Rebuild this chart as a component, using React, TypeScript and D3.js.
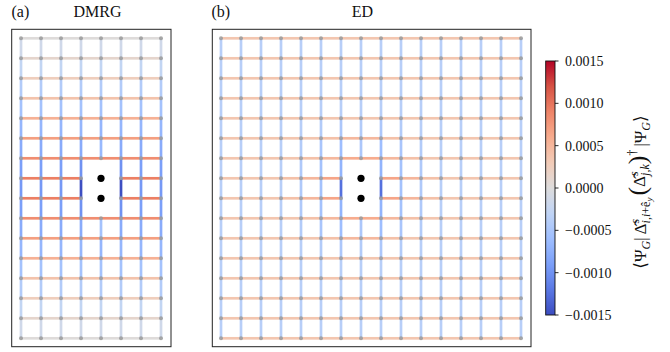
import React from "react";
import * as d3 from "d3";

// Bond expectation values, in units of 1e-4. null = bond removed by the hole pair.
// Horizontal bonds: [row][k] joins column k and k+1. Vertical bonds: [gap][col] joins row g and g+1.
const dmrgHorizontal: (number | null)[][] = [
  [0.2, 0.2, 0.2, 0.2, 0.2, 0.2, 0.2],
  [1.2, 1.2, 1.2, 1.2, 1.2, 1.2, 1.2],
  [2.5, 2.5, 2.5, 2.5, 2.5, 2.5, 2.5],
  [3.8, 3.8, 3.8, 3.8, 3.8, 3.8, 3.8],
  [5.5, 5.5, 5.5, 5.5, 5.5, 5.5, 5.5],
  [7.0, 7.0, 7.0, 7.0, 7.0, 7.0, 7.0],
  [8.3, 8.3, 8.3, 8.3, 8.3, 8.3, 8.3],
  [9.3, 9.3, 9.3, null, null, 9.3, 9.3],
  [9.3, 9.3, 9.3, null, null, 9.3, 9.3],
  [8.3, 8.3, 8.3, 8.3, 8.3, 8.3, 8.3],
  [7.0, 7.0, 7.0, 7.0, 7.0, 7.0, 7.0],
  [5.5, 5.5, 5.5, 5.5, 5.5, 5.5, 5.5],
  [3.8, 3.8, 3.8, 3.8, 3.8, 3.8, 3.8],
  [2.5, 2.5, 2.5, 2.5, 2.5, 2.5, 2.5],
  [1.2, 1.2, 1.2, 1.2, 1.2, 1.2, 1.2],
  [0.2, 0.2, 0.2, 0.2, 0.2, 0.2, 0.2],
];

const dmrgVertical: (number | null)[][] = [
  [-1.5, -1.5, -1.5, -1.5, -1.5, -1.5, -1.5, -1.5],
  [-2.8, -2.8, -2.8, -2.8, -2.8, -2.8, -2.8, -2.8],
  [-4.2, -4.2, -4.2, -4.2, -4.2, -4.2, -4.2, -4.2],
  [-5.5, -5.5, -5.5, -5.5, -5.5, -5.5, -5.5, -5.5],
  [-6.8, -6.8, -6.8, -6.8, -6.8, -6.8, -6.8, -6.8],
  [-7.8, -7.8, -7.8, -7.8, -6.5, -7.8, -7.8, -7.8],
  [-9.0, -9.0, -9.0, -10.0, null, -10.0, -9.0, -9.0],
  [-9.5, -9.5, -9.5, -14.8, null, -14.8, -9.5, -9.5],
  [-9.0, -9.0, -9.0, -10.0, null, -10.0, -9.0, -9.0],
  [-7.8, -7.8, -7.8, -7.8, -5.5, -7.8, -7.8, -7.8],
  [-6.8, -6.8, -6.8, -6.8, -6.8, -6.8, -6.8, -6.8],
  [-5.5, -5.5, -5.5, -5.5, -5.5, -5.5, -5.5, -5.5],
  [-4.2, -4.2, -4.2, -4.2, -4.2, -4.2, -4.2, -4.2],
  [-2.8, -2.8, -2.8, -2.8, -2.8, -2.8, -2.8, -2.8],
  [-1.5, -1.5, -1.5, -1.5, -1.5, -1.5, -1.5, -1.5],
];

const edHorizontal: (number | null)[][] = [
  [3.5, 3.5, 3.5, 3.5, 3.5, 3.5, 3.5, 3.5, 3.5, 3.5, 3.5, 3.5, 3.5, 3.5, 3.5],
  [3.5, 3.5, 3.5, 3.5, 3.5, 3.5, 3.5, 3.5, 3.5, 3.5, 3.5, 3.5, 3.5, 3.5, 3.5],
  [3.5, 3.5, 3.5, 3.5, 3.5, 3.5, 3.5, 3.5, 3.5, 3.5, 3.5, 3.5, 3.5, 3.5, 3.5],
  [3.5, 3.5, 3.5, 3.5, 3.5, 3.5, 3.5, 3.5, 3.5, 3.5, 3.5, 3.5, 3.5, 3.5, 3.5],
  [3.5, 3.5, 3.5, 3.5, 3.5, 3.5, 3.5, 3.5, 3.5, 3.5, 3.5, 3.5, 3.5, 3.5, 3.5],
  [3.5, 3.5, 3.5, 3.5, 3.5, 4.0, 4.8, 4.8, 4.0, 3.5, 3.5, 3.5, 3.5, 3.5, 3.5],
  [3.5, 3.5, 3.5, 3.5, 4.0, 4.8, 6.0, 6.0, 4.8, 4.0, 3.5, 3.5, 3.5, 3.5, 3.5],
  [3.5, 3.5, 3.5, 4.0, 5.0, 6.5, null, null, 6.5, 5.0, 4.0, 3.5, 3.5, 3.5, 3.5],
  [3.5, 3.5, 3.5, 4.0, 5.0, 6.5, null, null, 6.5, 5.0, 4.0, 3.5, 3.5, 3.5, 3.5],
  [3.5, 3.5, 3.5, 3.5, 4.0, 4.8, 6.0, 6.0, 4.8, 4.0, 3.5, 3.5, 3.5, 3.5, 3.5],
  [3.5, 3.5, 3.5, 3.5, 3.5, 4.0, 4.8, 4.8, 4.0, 3.5, 3.5, 3.5, 3.5, 3.5, 3.5],
  [3.5, 3.5, 3.5, 3.5, 3.5, 3.5, 3.5, 3.5, 3.5, 3.5, 3.5, 3.5, 3.5, 3.5, 3.5],
  [3.5, 3.5, 3.5, 3.5, 3.5, 3.5, 3.5, 3.5, 3.5, 3.5, 3.5, 3.5, 3.5, 3.5, 3.5],
  [3.5, 3.5, 3.5, 3.5, 3.5, 3.5, 3.5, 3.5, 3.5, 3.5, 3.5, 3.5, 3.5, 3.5, 3.5],
  [3.5, 3.5, 3.5, 3.5, 3.5, 3.5, 3.5, 3.5, 3.5, 3.5, 3.5, 3.5, 3.5, 3.5, 3.5],
  [3.5, 3.5, 3.5, 3.5, 3.5, 3.5, 3.5, 3.5, 3.5, 3.5, 3.5, 3.5, 3.5, 3.5, 3.5],
];

const edVertical: (number | null)[][] = [
  [-3.8, -3.8, -3.8, -3.8, -3.8, -3.8, -3.8, -3.8, -3.8, -3.8, -3.8, -3.8, -3.8, -3.8, -3.8, -3.8],
  [-3.8, -3.8, -3.8, -3.8, -3.8, -3.8, -3.8, -3.8, -3.8, -3.8, -3.8, -3.8, -3.8, -3.8, -3.8, -3.8],
  [-3.8, -3.8, -3.8, -3.8, -3.8, -3.8, -3.8, -3.8, -3.8, -3.8, -3.8, -3.8, -3.8, -3.8, -3.8, -3.8],
  [-3.8, -3.8, -3.8, -3.8, -3.8, -3.8, -3.8, -3.8, -3.8, -3.8, -3.8, -3.8, -3.8, -3.8, -3.8, -3.8],
  [-3.8, -3.8, -3.8, -3.8, -3.8, -4.2, -4.8, -4.2, -4.8, -4.2, -3.8, -3.8, -3.8, -3.8, -3.8, -3.8],
  [-3.8, -3.8, -3.8, -3.8, -4.2, -5.0, -6.0, -4.8, -6.0, -5.0, -4.2, -3.8, -3.8, -3.8, -3.8, -3.8],
  [-3.8, -3.8, -3.8, -3.8, -4.5, -5.5, -7.0, null, -7.0, -5.5, -4.5, -3.8, -3.8, -3.8, -3.8, -3.8],
  [-3.8, -3.8, -3.8, -3.8, -4.5, -5.5, -12.5, null, -12.5, -5.5, -4.5, -3.8, -3.8, -3.8, -3.8, -3.8],
  [-3.8, -3.8, -3.8, -3.8, -4.5, -5.5, -7.0, null, -7.0, -5.5, -4.5, -3.8, -3.8, -3.8, -3.8, -3.8],
  [-3.8, -3.8, -3.8, -3.8, -4.2, -5.0, -6.0, -4.8, -6.0, -5.0, -4.2, -3.8, -3.8, -3.8, -3.8, -3.8],
  [-3.8, -3.8, -3.8, -3.8, -3.8, -4.2, -4.8, -4.2, -4.8, -4.2, -3.8, -3.8, -3.8, -3.8, -3.8, -3.8],
  [-3.8, -3.8, -3.8, -3.8, -3.8, -3.8, -3.8, -3.8, -3.8, -3.8, -3.8, -3.8, -3.8, -3.8, -3.8, -3.8],
  [-3.8, -3.8, -3.8, -3.8, -3.8, -3.8, -3.8, -3.8, -3.8, -3.8, -3.8, -3.8, -3.8, -3.8, -3.8, -3.8],
  [-3.8, -3.8, -3.8, -3.8, -3.8, -3.8, -3.8, -3.8, -3.8, -3.8, -3.8, -3.8, -3.8, -3.8, -3.8, -3.8],
  [-3.8, -3.8, -3.8, -3.8, -3.8, -3.8, -3.8, -3.8, -3.8, -3.8, -3.8, -3.8, -3.8, -3.8, -3.8, -3.8],
];

// Hole positions [column, row]
const dmrgHoles: [number, number][] = [[4, 7], [4, 8]];
const edHoles: [number, number][] = [[7, 7], [7, 8]];

const valueUnit = 1e-4;
const vmin = -0.0015;
const vmax = 0.0015;
const colorbarTicks = [-0.0015, -0.001, -0.0005, 0, 0.0005, 0.001, 0.0015];

// coolwarm colormap samples
const coolwarm = [
  "#3b4cc0", "#5a78e4", "#7b9ff9", "#9ebeff", "#c0d4f5", "#dddcdc",
  "#f2cbb7", "#f7ac8e", "#ee8468", "#d65244", "#b40426",
];

const color = d3
  .scaleLinear<string>()
  .domain(coolwarm.map((_, i) => vmin + (i * (vmax - vmin)) / (coolwarm.length - 1)))
  .range(coolwarm)
  .interpolate(d3.interpolateRgb)
  .clamp(true);

const FONT = "Liberation Serif, DejaVu Serif, serif";
const ROWS = 16;
const siteY = d3.scaleLinear().domain([0, ROWS - 1]).range([38.3, 338.3]);
const frameTop = 29.3;
const frameBottom = 346.7;
const BOND_W = 2.7;

type PanelProps = {
  horizontal: (number | null)[][];
  vertical: (number | null)[][];
  holes: [number, number][];
  xRange: [number, number];
  frame: [number, number];
  label: string;
  labelX: number;
  title: string;
  titleX: number;
};

function LatticePanel(p: PanelProps) {
  const cols = p.vertical[0].length;
  const x = d3.scaleLinear().domain([0, cols - 1]).range(p.xRange);
  const y = siteY;
  const isHole = (c: number, r: number) => p.holes.some(([hc, hr]) => hc === c && hr === r);
  const bonds: JSX.Element[] = [];
  p.horizontal.forEach((row, r) =>
    row.forEach((v, k) => {
      if (v === null) return;
      bonds.push(
        <line key={`h${r}-${k}`} x1={x(k)} x2={x(k + 1)} y1={y(r)} y2={y(r)}
          stroke={color(v * valueUnit)} strokeWidth={BOND_W} />
      );
    })
  );
  p.vertical.forEach((row, g) =>
    row.forEach((v, c) => {
      if (v === null) return;
      bonds.push(
        <line key={`v${g}-${c}`} x1={x(c)} x2={x(c)} y1={y(g)} y2={y(g + 1)}
          stroke={color(v * valueUnit)} strokeWidth={BOND_W} />
      );
    })
  );
  const sites: JSX.Element[] = [];
  for (let r = 0; r < ROWS; r++) {
    for (let c = 0; c < cols; c++) {
      if (isHole(c, r)) continue;
      sites.push(<circle key={`s${r}-${c}`} cx={x(c)} cy={y(r)} r={2} fill="#9a9a9a" fillOpacity={0.85} />);
    }
  }
  return (
    <g>
      <text x={p.labelX} y={16.5} fontFamily={FONT} fontSize={16} fill="#111">{p.label}</text>
      <text x={p.titleX} y={16.5} fontFamily={FONT} fontSize={16} fill="#111" textAnchor="middle">{p.title}</text>
      {bonds}
      {sites}
      {p.holes.map(([c, r]) => (
        <circle key={`hole${c}-${r}`} cx={x(c)} cy={y(r)} r={3.6} fill="#000" />
      ))}
      <rect x={p.frame[0]} y={frameTop} width={p.frame[1] - p.frame[0]} height={frameBottom - frameTop}
        fill="none" stroke="#222" strokeWidth={1} />
    </g>
  );
}

function Colorbar() {
  const x0 = 545.7;
  const w = 9.3;
  const cy = d3.scaleLinear().domain([vmin, vmax]).range([315, 61]);
  const fmt = d3.format(".4f");
  const stops = d3.range(0, 1.0001, 0.05);
  return (
    <g>
      <defs>
        <linearGradient id="cbar" x1="0" y1="1" x2="0" y2="0">
          {stops.map((t) => (
            <stop key={t} offset={t} stopColor={color(vmin + t * (vmax - vmin))} />
          ))}
        </linearGradient>
      </defs>
      <rect x={x0} y={cy(vmax)} width={w} height={cy(vmin) - cy(vmax)} fill="url(#cbar)" stroke="#111" strokeWidth={0.9} />
      {colorbarTicks.map((t) => (
        <g key={t}>
          <line x1={x0 + w} x2={x0 + w + 3.5} y1={cy(t)} y2={cy(t)} stroke="#111" strokeWidth={0.9} />
          <text x={565} y={cy(t)} dy="0.35em" fontFamily={FONT} fontSize={14} fill="#111">{fmt(t)}</text>
        </g>
      ))}
      <g transform="translate(646,192) rotate(-90)">
        <text fontFamily={FONT} fontSize={17} fill="#111" textAnchor="middle">
          <tspan>⟨Ψ</tspan>
          <tspan dy={4} fontSize={12} fontStyle="italic">G</tspan>
          <tspan dy={-4}>|</tspan>
          <tspan dx={3}>Δ̂</tspan>
          <tspan dy={-7} fontSize={12} fontStyle="italic">s</tspan>
          <tspan dx={-4.6} dy={11} fontSize={12} fontStyle="italic">i</tspan>
          <tspan fontSize={12}>,</tspan>
          <tspan fontSize={12} fontStyle="italic">i</tspan>
          <tspan fontSize={12}>+ê</tspan>
          <tspan dy={2} fontSize={9} fontStyle="italic">y</tspan>
          <tspan dy={-6} dx={2} fontSize={26}>(</tspan>
          <tspan dy={-1}>Δ̂</tspan>
          <tspan dy={-7} fontSize={12} fontStyle="italic">s</tspan>
          <tspan dx={-4.6} dy={11} fontSize={12} fontStyle="italic">j</tspan>
          <tspan fontSize={12}>,</tspan>
          <tspan fontSize={12} fontStyle="italic">k</tspan>
          <tspan dy={-3} fontSize={26}>)</tspan>
          <tspan dy={-10} fontSize={12}>†</tspan>
          <tspan dy={10} dx={3}>|Ψ</tspan>
          <tspan dy={4} fontSize={12} fontStyle="italic">G</tspan>
          <tspan dy={-4}>⟩</tspan>
        </text>
      </g>
    </g>
  );
}

export default function App() {
  return (
    <svg width={670} height={352} style={{ position: "absolute", left: 0, top: 0, background: "#fff" }}>
      <rect width={670} height={352} fill="#fff" />
      <LatticePanel horizontal={dmrgHorizontal} vertical={dmrgVertical} holes={dmrgHoles}
        xRange={[21, 161]} frame={[11.7, 171]} label="(a)" labelX={11.5} title="DMRG" titleX={97.5} />
      <LatticePanel horizontal={edHorizontal} vertical={edVertical} holes={edHoles}
        xRange={[221, 521]} frame={[212.3, 531]} label="(b)" labelX={211.5} title="ED" titleX={362.5} />
      <Colorbar />
    </svg>
  );
}
